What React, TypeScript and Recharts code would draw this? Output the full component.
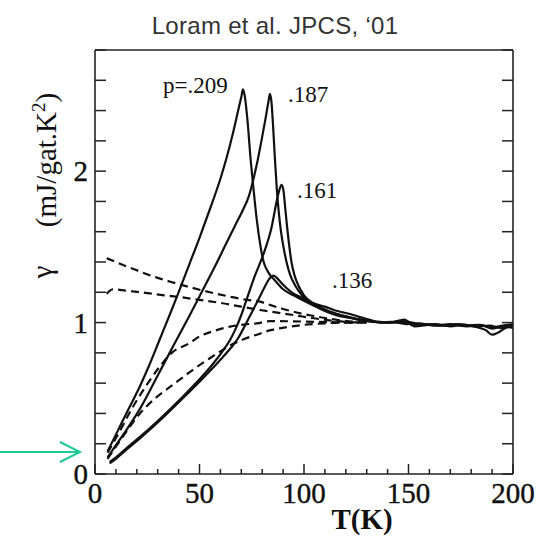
import React from 'react';
import { LineChart, Line, XAxis, YAxis, ReferenceDot } from 'recharts';

// gamma (mJ/gat.K^2) vs T (K), read off Loram et al. JPCS '01
// solid curves: measured, one per doping p
const t209 = [6, 10, 15, 21.5, 26, 31, 36, 40, 45, 50, 55, 60, 63, 66, 68.5, 70, 70.8, 71.6, 72.5, 73.3, 74.2, 75.5, 77.4, 79, 80.5, 83, 86, 90, 95, 99, 105, 110, 115, 120, 126, 133, 140, 147, 152, 158, 165, 172, 178, 185, 190, 195, 200];
const g209 = [0.15, 0.26, 0.4, 0.58, 0.72, 0.89, 1.06, 1.2, 1.38, 1.56, 1.75, 1.95, 2.09, 2.25, 2.4, 2.49, 2.54, 2.5, 2.4, 2.28, 2.12, 1.93, 1.68, 1.52, 1.41, 1.33, 1.28, 1.22, 1.18, 1.15, 1.11, 1.08, 1.06, 1.04, 1.02, 1.005, 1.0, 1.01, 0.985, 0.99, 0.98, 0.985, 0.975, 0.98, 0.96, 0.975, 0.965];

const t187 = [6, 10, 15, 21.5, 30, 38, 45, 51, 57, 62, 67, 71, 73.5, 75.5, 77.5, 79.5, 81.5, 83, 83.7, 84.4, 85.2, 86, 87, 88, 89, 90.3, 91.8, 93.5, 96, 99, 103, 108, 115, 122, 130, 136, 141, 148, 153, 160, 167, 174, 181, 187, 190, 193, 197, 200];
const g187 = [0.11, 0.19, 0.29, 0.43, 0.65, 0.86, 1.04, 1.2, 1.36, 1.5, 1.64, 1.75, 1.83, 1.93, 2.05, 2.19, 2.34, 2.46, 2.51, 2.46, 2.3, 2.1, 1.88, 1.72, 1.6, 1.49, 1.39, 1.31, 1.24, 1.18, 1.13, 1.09, 1.05, 1.03, 1.01, 1.005, 1.0, 1.02, 0.975, 0.985, 0.98, 0.99, 0.975, 0.95, 0.92, 0.935, 0.97, 0.98];

const t161 = [7, 10, 15, 21.5, 30, 42, 50, 56, 61, 64.6, 67, 70, 72, 76, 81.3, 84.5, 86.9, 88.3, 89.3, 90.2, 91, 92, 93, 94, 95.5, 97.5, 100, 104, 108, 115, 122, 130, 137, 142, 149, 155, 162, 170, 177, 184, 190, 195, 200];
const g161 = [0.08, 0.11, 0.17, 0.245, 0.35, 0.51, 0.625, 0.72, 0.81, 0.885, 0.95, 1.05, 1.13, 1.29, 1.48, 1.63, 1.8, 1.88, 1.91, 1.87, 1.76, 1.62, 1.5, 1.4, 1.31, 1.24, 1.18, 1.13, 1.1, 1.06, 1.035, 1.015, 1.0, 1.005, 0.99, 0.995, 0.98, 0.99, 0.98, 0.985, 0.97, 0.98, 0.99];

const t136 = [7, 10, 15, 21.5, 30, 42, 50, 56, 61, 66, 68.6, 71, 74, 78.1, 81, 83.5, 85.3, 87, 89.3, 91.5, 94.1, 98, 102, 106, 110, 115, 121, 126, 131, 135, 143, 150, 156, 163, 170, 176, 183, 189, 194, 200];
const g136 = [0.07, 0.1, 0.16, 0.235, 0.34, 0.5, 0.61, 0.695, 0.77, 0.85, 0.9, 0.96, 1.04, 1.15, 1.23, 1.29, 1.31, 1.295, 1.26, 1.23, 1.2, 1.17, 1.14, 1.12, 1.105, 1.08, 1.06, 1.04, 1.02, 1.005, 1.0, 1.005, 0.985, 0.99, 0.975, 0.985, 0.975, 0.98, 0.965, 0.975];

// dashed curves
const tDA = [5.6, 10, 20, 30, 36, 45, 55, 65, 72.6, 79, 84, 90, 97, 104, 110, 117, 124, 130];
const gDA = [1.425, 1.4, 1.345, 1.295, 1.27, 1.235, 1.2, 1.17, 1.15, 1.138, 1.115, 1.09, 1.065, 1.045, 1.03, 1.015, 1.005, 1.0];

const tDB = [5.6, 7, 8.8, 15, 25, 33, 40.7, 50, 60, 70, 79, 84, 90, 97, 104, 112, 120, 130];
const gDB = [1.19, 1.21, 1.22, 1.21, 1.195, 1.18, 1.168, 1.15, 1.13, 1.105, 1.083, 1.072, 1.06, 1.045, 1.03, 1.015, 1.005, 1.0];

const tDC = [6, 10.4, 18, 26.3, 31, 36.7, 45.5, 50.2, 57, 64.6, 71, 77.4, 84, 95, 105, 115, 125];
const gDC = [0.14, 0.246, 0.44, 0.62, 0.71, 0.8, 0.866, 0.91, 0.945, 0.973, 0.987, 0.995, 1.01, 1.008, 1.005, 1.002, 1.0];

const tDD = [6, 10, 15, 21.5, 28, 35.9, 40.7, 47, 53.4, 60, 66.2, 72, 77.4, 84, 92, 100, 110, 120, 128];
const gDD = [0.1, 0.18, 0.28, 0.4, 0.49, 0.575, 0.625, 0.69, 0.75, 0.81, 0.86, 0.895, 0.92, 0.95, 0.97, 0.985, 0.995, 1.0, 1.0];

const xTicks = Array.from({ length: 21 }, (_, i) => i * 10);
const yTicks = Array.from({ length: 15 }, (_, i) => i / 5);

const zip = (t: number[], g: number[]) => t.map((T, i) => ({ T, g: g[i] }));

const solid = [zip(t209, g209), zip(t187, g187), zip(t161, g161), zip(t136, g136)];
const dashed = [zip(tDA, gDA), zip(tDB, gDB), zip(tDC, gDC), zip(tDD, gDD)];

const AXIS = '#222';
const INK = '#111';
const SERIF = '"Liberation Serif", "DejaVu Serif", serif';

const isMajorY = (v: number) => Math.abs(v - Math.round(v)) < 1e-6;

// tick marks point inwards on all four sides
function BottomTick(p: any) {
  const v = p.payload.value;
  const major = v % 50 === 0;
  return (
    <g>
      <line x1={p.x} x2={p.x} y1={p.y} y2={p.y - (major ? 10 : 5)} stroke={AXIS} strokeWidth={1.5} />
      {major && (
        <text x={p.x} y={p.y + 29} textAnchor="middle" fontFamily={SERIF} fontSize={29} fill={INK} stroke={INK} strokeWidth={0.4}>
          {v}
        </text>
      )}
    </g>
  );
}

function TopTick(p: any) {
  const major = p.payload.value % 50 === 0;
  return <line x1={p.x} x2={p.x} y1={p.y} y2={p.y + (major ? 10 : 5)} stroke={AXIS} strokeWidth={1.5} />;
}

function LeftTick(p: any) {
  const v = p.payload.value;
  return (
    <g>
      <line x1={p.x} x2={p.x + 11} y1={p.y} y2={p.y} stroke={AXIS} strokeWidth={1.5} />
      {isMajorY(v) && (
        <text x={p.x - 7} y={p.y + 10} textAnchor="end" fontFamily={SERIF} fontSize={29} fill={INK} stroke={INK} strokeWidth={0.4}>
          {Math.round(v)}
        </text>
      )}
    </g>
  );
}

function RightTick(p: any) {
  return <line x1={p.x} x2={p.x - 11} y1={p.y} y2={p.y} stroke={AXIS} strokeWidth={1.5} />;
}

const annot = (text: string) => (p: any) => {
  const vb = p.viewBox || {};
  return (
    <text x={vb.x + (vb.width || 0) / 2} y={vb.y + (vb.height || 0) / 2} fontFamily={SERIF} fontSize={23} fill={INK}>
      {text}
    </text>
  );
};

export default function App() {
  const axisLine = { stroke: AXIS, strokeWidth: 1.6 };
  return (
    <div style={{ position: 'absolute', left: 0, top: 0, width: 537, height: 537, background: '#fff' }}>
      <LineChart width={537} height={537} margin={{ top: 0, right: 0, bottom: 0, left: 0 }}>
        <XAxis
          dataKey="T"
          type="number"
          domain={[0, 200]}
          ticks={xTicks}
          interval={0}
          height={63}
          tickSize={0}
          tickMargin={0}
          tickLine={false}
          axisLine={axisLine}
          tick={(p: any) => <BottomTick {...p} />}
          allowDataOverflow
        />
        <XAxis
          xAxisId="top"
          orientation="top"
          type="number"
          domain={[0, 200]}
          ticks={xTicks}
          interval={0}
          height={50}
          tickSize={0}
          tickMargin={0}
          tickLine={false}
          axisLine={axisLine}
          tick={(p: any) => <TopTick {...p} />}
          allowDataOverflow
        />
        <YAxis
          type="number"
          domain={[0, 2.8]}
          ticks={yTicks}
          interval={0}
          width={95}
          tickSize={0}
          tickMargin={0}
          tickLine={false}
          axisLine={axisLine}
          tick={(p: any) => <LeftTick {...p} />}
          allowDataOverflow
        />
        <YAxis
          yAxisId="right"
          orientation="right"
          type="number"
          domain={[0, 2.8]}
          ticks={yTicks}
          interval={0}
          width={24}
          tickSize={0}
          tickMargin={0}
          tickLine={false}
          axisLine={axisLine}
          tick={(p: any) => <RightTick {...p} />}
          allowDataOverflow
        />
        {dashed.map((d, i) => (
          <Line
            key={'d' + i}
            data={d}
            dataKey="g"
            type="monotone"
            stroke={INK}
            strokeWidth={2.2}
            strokeDasharray="8 5"
            dot={false}
            activeDot={false}
            isAnimationActive={false}
          />
        ))}
        {solid.map((d, i) => (
          <Line
            key={'s' + i}
            data={d}
            dataKey="g"
            type="monotone"
            stroke={INK}
            strokeWidth={2.2}
            dot={false}
            activeDot={false}
            isAnimationActive={false}
          />
        ))}
        <ReferenceDot x={32.5} y={2.516} r={0} fill="none" stroke="none" label={annot('p=.209')} />
        <ReferenceDot x={92.3} y={2.457} r={0} fill="none" stroke="none" label={annot('.187')} />
        <ReferenceDot x={96.7} y={1.823} r={0} fill="none" stroke="none" label={annot('.161')} />
        <ReferenceDot x={113.4} y={1.228} r={0} fill="none" stroke="none" label={annot('.136')} />
      </LineChart>
      <svg width={537} height={537} style={{ position: 'absolute', left: 0, top: 0, pointerEvents: 'none' }}>
        <text x={275} y={34} textAnchor="middle" fontFamily='"Liberation Sans", Arial, sans-serif' fontSize={24} fill="#333" letterSpacing={0.3}>
          Loram et al. JPCS, ‘01
        </text>
        <text transform="rotate(-90 56 160)" x={56} y={160} textAnchor="middle" fontFamily={SERIF} fontSize={29} fill={INK}>
          (mJ/gat.K
          <tspan dy={-11} fontSize={19}>2</tspan>
          <tspan dy={11}>)</tspan>
        </text>
        <text transform="rotate(-90 52 272)" x={52} y={272} textAnchor="middle" fontFamily={SERIF} fontSize={29} fill={INK}>
          γ
        </text>
        <text x={362} y={529} textAnchor="middle" fontFamily={SERIF} fontWeight="bold" fontSize={29} fill={INK}>
          T(K)
        </text>
        <g stroke="#20c997" strokeWidth={2} fill="none">
          <line x1={0} y1={452} x2={79} y2={452} />
          <polyline points="60,442 80,452 60,462" />
        </g>
      </svg>
    </div>
  );
}
